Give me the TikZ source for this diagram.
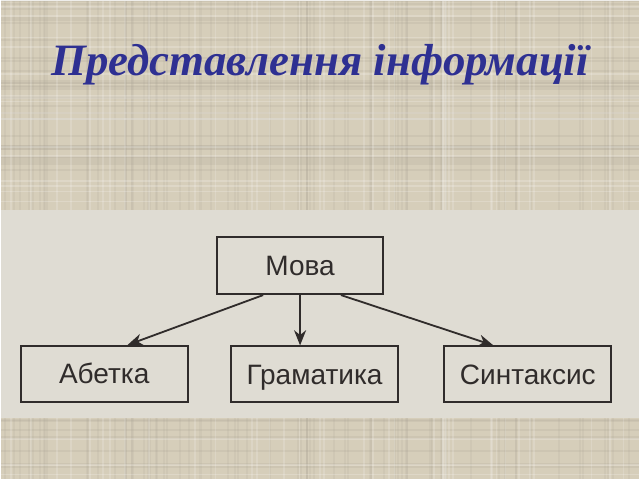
\documentclass[tikz,border=0pt]{standalone}
\usepackage{fontspec}
\setmainfont{Liberation Serif}
\setsansfont{Liberation Sans}
\usetikzlibrary{arrows.meta}
\definecolor{paper}{RGB}{214,206,186}
\definecolor{band}{RGB}{223,220,211}
\definecolor{ink}{RGB}{48,44,43}
\definecolor{titleblue}{RGB}{46,48,146}

\begin{document}
\begin{tikzpicture}[x=0.025cm,y=-0.025cm]
            \tikzstyle{every node}+=[inner sep=0pt]
            \tikzstyle{wordbox}=[draw=ink, line width=1.4pt, minimum width=4.18cm, minimum height=1.4cm, text height=14.3pt, text depth=0pt, font=\sffamily\fontsize{20}{22}\selectfont, text=ink]
            \tikzstyle{link}=[draw=ink, line width=1.3pt, -{Stealth[length=0.38cm, width=0.3cm, inset=0.12cm]}]
            % background with a rough weave
            \fill [paper] (0, 0) rectangle (640, 480);
            \pgfmathsetseed{11}
            \foreach \i in {1,...,70} {
                \pgfmathsetmacro{\yy}{rnd*480}
                \pgfmathsetmacro{\xx}{rnd*640}
                \draw [paper!80!black, opacity=0.2, line width=1.5pt] (0, \yy) -- (640, \yy);
                \draw [paper!80!black, opacity=0.16, line width=1.5pt] (\xx, 0) -- (\xx, 480);
            }
            \foreach \i in {1,...,40} {
                \pgfmathsetmacro{\yy}{rnd*480}
                \pgfmathsetmacro{\xx}{rnd*640}
                \draw [white, opacity=0.2, line width=1.2pt] (0, \yy) -- (640, \yy);
                \draw [white, opacity=0.16, line width=1.2pt] (\xx, 0) -- (\xx, 480);
            }
            \fill [band] (0, 210) rectangle (640, 418);
            % title
            \node (title) at (320, 64) [text=titleblue, font=\fontsize{32}{38}\selectfont\bfseries\itshape] {Представлення інформації};
            % boxes
            \node [wordbox, minimum height=1.425cm] (mova) at (300, 265.5) {Мова};
            \node [wordbox] (abetka) at (103.5, 374) {Абетка};
            \node [wordbox] (gramatyka) at (314.5, 374.5) {Граматика};
            \node [wordbox] (syntaksys) at (528.5, 374.5) {Синтаксис};
            % arrows
            \draw [link] ([xshift=-0.925cm]mova.south) -- ([xshift=0.5875cm]abetka.north);
            \draw [link] (mova.south) -- ([xshift=-0.3625cm]gramatyka.north);
            \draw [link] ([xshift=1.025cm]mova.south) -- ([xshift=-0.8625cm]syntaksys.north);
\end{tikzpicture}
\end{document}
